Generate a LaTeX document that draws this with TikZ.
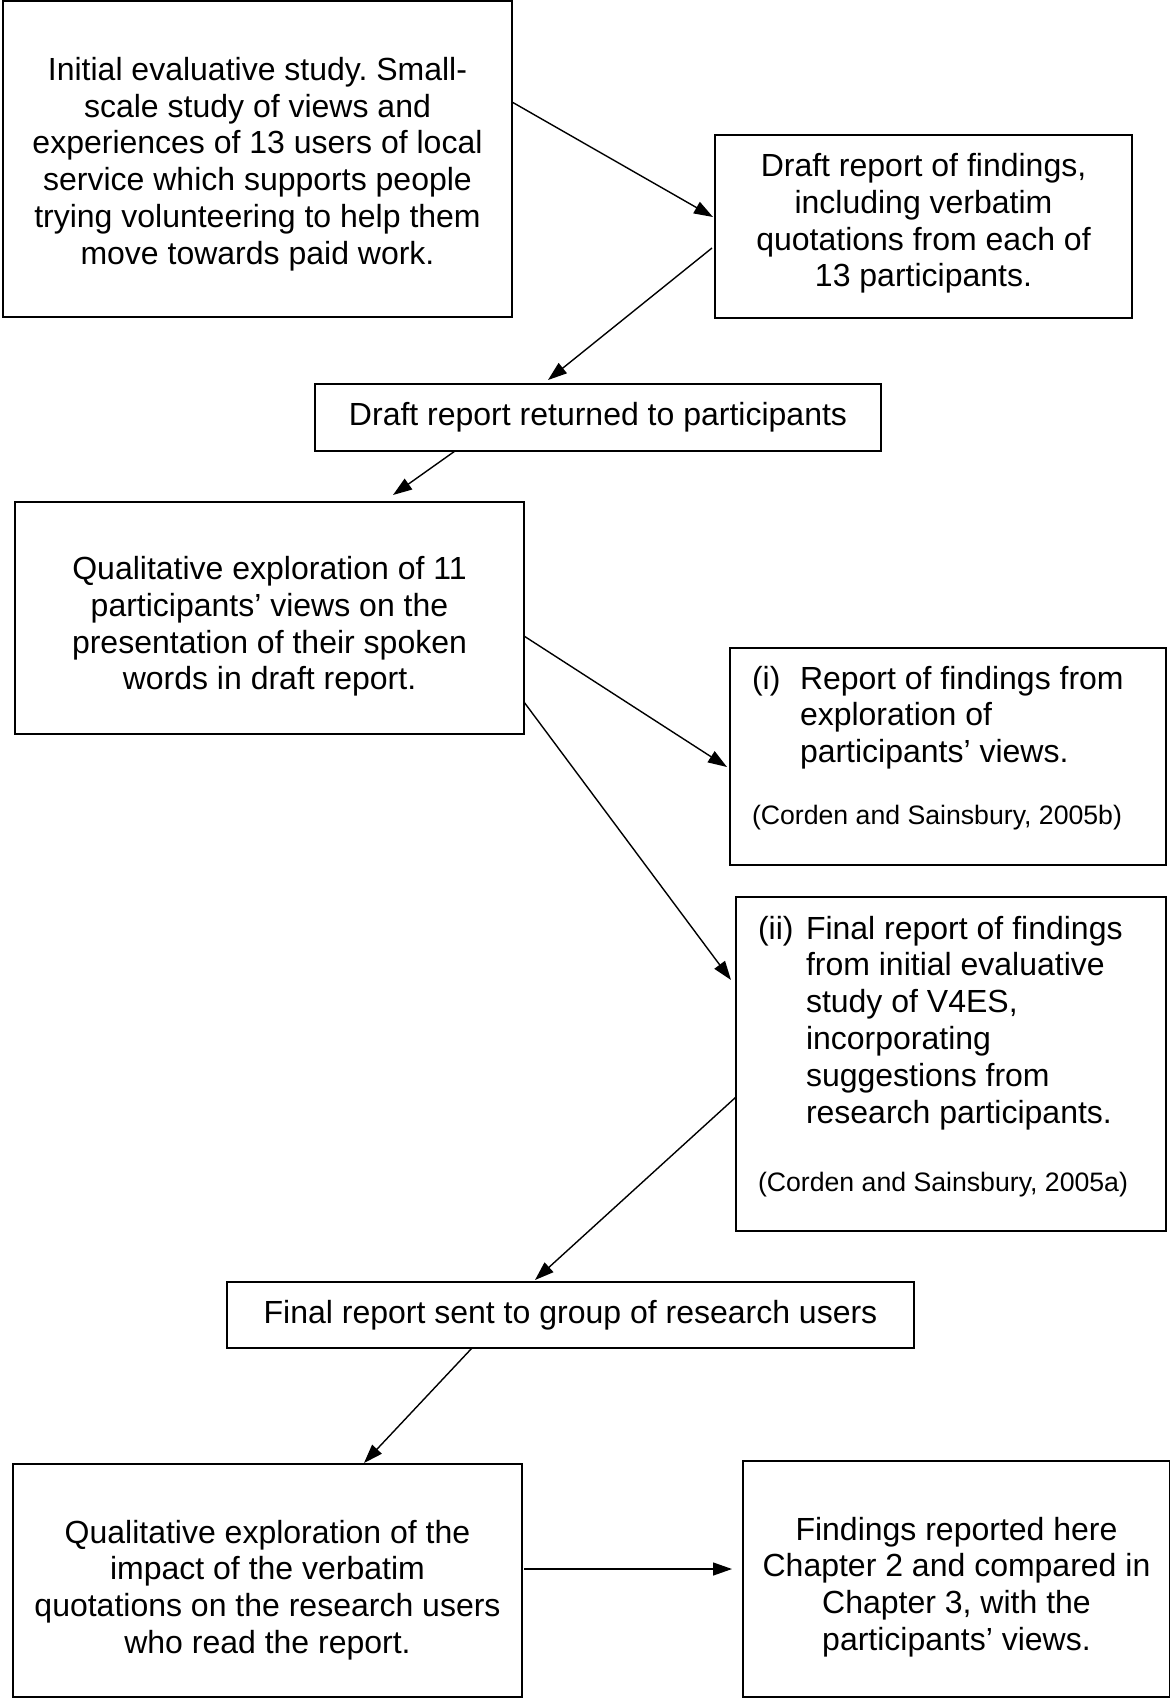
\documentclass[tikz,border=0pt]{standalone}
\usepackage{fontspec}
\setmainfont{Liberation Sans}
\usetikzlibrary{arrows.meta,calc}
\frenchspacing
\tikzset{
  box/.style={draw=black, line width=1pt, inner sep=0pt, outer sep=0pt},
  boxtext/.style={inner sep=0pt, outer sep=0pt, align=center,
    font=\fontsize{16pt}{18.4pt}\selectfont},
  conn/.style={draw=black, line width=0.7pt, -{Triangle[length=9.5pt,width=6.5pt]}},
  plain/.style={inner sep=0pt, outer sep=0pt, anchor=base west},
}
\newcommand{\bodyfont}{\fontsize{16pt}{18.4pt}\selectfont}
\newcommand{\citefont}{\fontsize{13.33pt}{15pt}\selectfont}
\begin{document}
\begin{tikzpicture}[x=0.5pt,y=-0.5pt]
\useasboundingbox (0,0) rectangle (1170,1699);
% boxes
\node[box, minimum width=254.5pt, minimum height=158pt] (A) at (257.5,159) {};
\node[box, minimum width=208.5pt, minimum height=91.5pt] (B) at (923.5,226.5) {};
\node[box, minimum width=283pt, minimum height=33.5pt] (C) at (598,417.5) {};
\node[box, minimum width=254.5pt, minimum height=116pt] (D) at (269.5,618) {};
\node[box, minimum width=218pt, minimum height=108.5pt] (E) at (948,756.5) {};
\node[box, minimum width=215pt, minimum height=167pt] (F) at (951,1064) {};
\node[box, minimum width=343.5pt, minimum height=33pt] (G) at (570.5,1315) {};
\node[box, minimum width=254.5pt, minimum height=116.5pt] (H) at (267.5,1580.5) {};
\node[box, minimum width=213.5pt, minimum height=118pt] (I) at (956.5,1579) {};
% box texts
\node[boxtext] (Atext) at (257.5,164)
  {Initial evaluative study. Small-\\scale study of views and\\experiences of 13 users of local\\service which supports people\\trying volunteering to help them\\move towards paid work.};
\node[boxtext] (Btext) at (923.5,223.5)
  {Draft report of findings,\\including verbatim\\quotations from each of\\13 participants.};
\node[boxtext] (Ctext) at (598,417.5)
  {Draft report returned to participants};
\node[boxtext] (Dtext) at (269.5,626.5)
  {Qualitative exploration of 11\\participants’ views on the\\presentation of their spoken\\words in draft report.};
\node[boxtext] (Gtext) at (570.5,1315)
  {Final report sent to group of research users};
\node[boxtext] (Htext) at (267.5,1590)
  {Qualitative exploration of the\\impact of the verbatim\\quotations on the research users\\who read the report.};
\node[boxtext] (Itext) at (956.5,1587)
  {Findings reported here\\Chapter 2 and compared in\\Chapter 3, with the\\participants’ views.};
% texts in E
\node[plain, font=\bodyfont] (Enum) at (752,689) {(i)};
\node[plain] (Etxt) at (800,689) {\parbox[t]{170pt}{\raggedright\bodyfont Report of findings from\\exploration of\\participants’ views.}};
\node[plain, font=\citefont] (Ecite) at (752,824) {(Corden and Sainsbury, 2005b)};
% texts in F
\node[plain, font=\bodyfont] (Fnum) at (758,939) {(ii)};
\node[plain] (Ftxt) at (806,939) {\parbox[t]{170pt}{\raggedright\bodyfont Final report of findings\\from initial evaluative\\study of V4ES,\\incorporating\\suggestions from\\research participants.}};
\node[plain, font=\citefont] (Fcite) at (758,1191) {(Corden and Sainsbury, 2005a)};
% connectors
\draw[conn] ($(A.east)+(0,-57)$) -- ($(B.west)+(-2,-9.5)$);
\draw[conn] ($(B.west)+(-3,21.5)$) -- ($(C.north)+(-50,-4)$);
\draw[conn] ($(C.south)+(-143,0)$) -- ($(D.north)+(123.5,-7)$);
\draw[conn] ($(D.east)+(0,18)$) -- ($(E.west)+(-3,10.5)$);
\draw[conn] ($(D.east)+(0,84)$) -- ($(F.west)+(-5,-84)$);
\draw[conn] ($(F.west)+(0,33)$) -- ($(G.north)+(-35.5,-2)$);
\draw[conn] ($(G.south)+(-98.5,0)$) -- ($(H.north)+(96.5,-1)$);
\draw[conn] ($(H.east)+(2,-11.5)$) -- ($(I.west)+(-11,-10)$);
\end{tikzpicture}
\end{document}
